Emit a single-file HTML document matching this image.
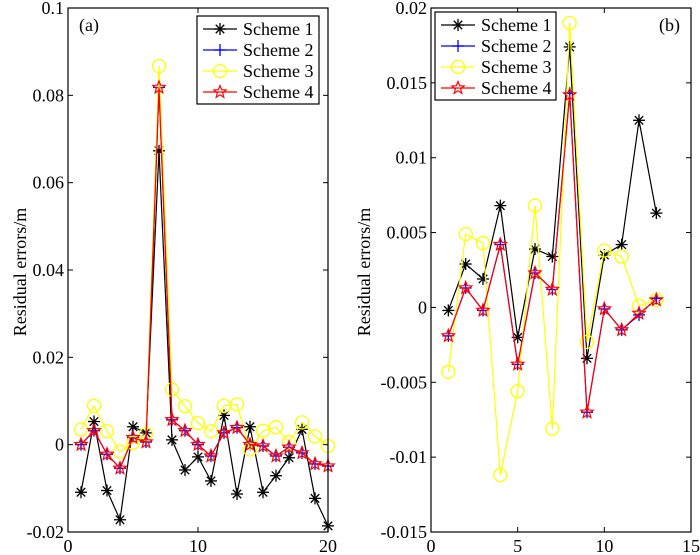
<!DOCTYPE html>
<html><head><meta charset="utf-8"><style>
html,body{margin:0;padding:0;background:#fff;}
svg{display:block;font-family:"Liberation Serif",serif;}
</style></head><body>
<svg id="chart" width="700" height="555" viewBox="0 0 700 555" xmlns="http://www.w3.org/2000/svg"></svg>
<script>
const xA = [1,2,3,4,5,6,7,8,9,10,11,12,13,14,15,16,17,18,19,20];
const a1 = [-0.0109,0.0053,-0.0105,-0.0172,0.0041,0.0027,0.0673,0.0011,-0.0058,-0.0028,-0.0083,0.0067,-0.0113,0.0041,-0.0109,-0.0071,-0.003,0.0035,-0.0123,-0.0186];
const a2 = [0,0.0032,-0.0022,-0.0054,0.0016,0.0006,0.0818,0.0057,0.0032,0,-0.0026,0.0027,0.0039,0,-0.0003,-0.0026,-0.0006,-0.0019,-0.0044,-0.0049];
const a3 = [0.0035,0.0089,0.0031,-0.0016,0.0004,0.0024,0.0867,0.0126,0.0088,0.0049,0.0031,0.0089,0.0092,-0.0011,0.0032,0.004,0.0006,0.0051,0.0019,-0.0003];
const a4 = [0,0.0032,-0.0022,-0.0054,0.0016,0.0006,0.0818,0.0057,0.0032,0,-0.0026,0.0027,0.0039,0,-0.0003,-0.0026,-0.0006,-0.0019,-0.0044,-0.0049];
const xB = [1,2,3,4,5,6,7,8,9,10,11,12,13];
const b1 = [-0.0002,0.0029,0.0019,0.0068,-0.002,0.0039,0.0034,0.0174,-0.0034,0.0035,0.0042,0.0125,0.0063];
const b2 = [-0.0019,0.0013,-0.0002,0.0042,-0.0038,0.0023,0.0012,0.0143,-0.007,-0.0001,-0.0015,-0.0005,0.0006];
const b3 = [-0.0043,0.0049,0.0043,-0.0112,-0.0056,0.0068,-0.0081,0.019,-0.0023,0.0038,0.0034,0.0001,0.0005];
const b4 = [-0.0019,0.0013,-0.0002,0.0042,-0.0038,0.0023,0.0012,0.0142,-0.007,-0.0001,-0.0015,-0.0004,0.0005];
const xTicksA = [0,10,20];
const yTicksA = [-0.02,0,0.02,0.04,0.06,0.08,0.1];
const yLabelsA = ["-0.02","0","0.02","0.04","0.06","0.08","0.1"];
const xTicksB = [0,5,10,15];
const yTicksB = [-0.015,-0.01,-0.005,0,0.005,0.01,0.015,0.02];
const yLabelsB = ["-0.015","-0.01","-0.005","0","0.005","0.01","0.015","0.02"];
const names = ["Scheme 1","Scheme 2","Scheme 3","Scheme 4"];

const NS="http://www.w3.org/2000/svg";
const svg=document.getElementById('chart');
function mk(tag,attrs,parent){const e=document.createElementNS(NS,tag);for(const k in attrs)e.setAttribute(k,attrs[k]);(parent||svg).appendChild(e);return e;}

function marker(g,type,x,y){
  const r=6;
  if(type===0){
    for(let i=0;i<4;i++){const a=i*Math.PI/4;const m=mk('line',{x1:x-r*Math.cos(a),y1:y-r*Math.sin(a),x2:x+r*Math.cos(a),y2:y+r*Math.sin(a),stroke:'#000','stroke-width':1.3},g);}
  } else if(type===1){
    const m1=mk('line',{x1:x-r,y1:y,x2:x+r,y2:y,stroke:'#0000ff','stroke-width':1.3},g);
    const m2=mk('line',{x1:x,y1:y-r,x2:x,y2:y+r,stroke:'#0000ff','stroke-width':1.3},g);
  } else if(type===2){
    const m=mk('circle',{cx:x,cy:y,r:6.5,fill:'none',stroke:'#ffff00','stroke-width':1.3},g);
  } else {
    let p=[];for(let i=0;i<10;i++){const rr=i%2?2.8:6.5;const a=-Math.PI/2+i*Math.PI/5;p.push((x+rr*Math.cos(a)).toFixed(2)+','+(y+rr*Math.sin(a)).toFixed(2));}
    const m=mk('polygon',{points:p.join(' '),fill:'none',stroke:'#ff0000','stroke-width':1.2},g);
  }
}
const colors=['#000','#0000ff','#ffff00','#ff0000'];

function panel(id,L,R,T,B,xmin,xmax,ymin,ymax,xt,yt,yl,xs,series,legX,legY,legW,tag,tagX,titleX){
  const g=mk('g',{});
  
  
  const sx=v=>L+(v-xmin)/(xmax-xmin)*(R-L);
  const sy=v=>B-(v-ymin)/(ymax-ymin)*(B-T);
  series.forEach((s,k)=>{
    const sg=mk('g',{},g);
    
    
    const pl=mk('polyline',{points:s.map((v,i)=>sx(xs[i])+','+sy(v)).join(' '),fill:'none',stroke:colors[k],'stroke-width':1.2},sg);
    
    
    s.forEach((v,i)=>marker(sg,k,sx(xs[i]),sy(v)));
  });
  const fr=mk('rect',{x:L,y:T,width:R-L,height:B-T,fill:'none',stroke:'#000','stroke-width':1.2},g);
  
  
  xt.forEach(v=>{
    const x=sx(v);
    mk('line',{x1:x,y1:B,x2:x,y2:B-5,stroke:'#000'},g);
    mk('line',{x1:x,y1:T,x2:x,y2:T+5,stroke:'#000'},g);
    const t=mk('text',{x:x,y:B+20,'font-size':18,'text-anchor':'middle'},g);
    t.textContent=v;
    
    
  });
  yt.forEach((v,i)=>{
    const y=sy(v);
    mk('line',{x1:L,y1:y,x2:L+5,y2:y,stroke:'#000'},g);
    mk('line',{x1:R,y1:y,x2:R-5,y2:y,stroke:'#000'},g);
    const t=mk('text',{x:L-4,y:y+6,'font-size':18,'text-anchor':'end'},g);
    t.textContent=yl[i];
    
    
  });
  const yt2=mk('text',{x:0,y:0,'font-size':18,'text-anchor':'middle',transform:`translate(${titleX},272) rotate(-90)`},g);
  yt2.textContent='Residual errors/m';
  
  
  const tg=mk('text',{x:tagX,y:31,'font-size':18},g);
  tg.textContent=tag;
  
  
  const lg=mk('g',{},g);
  
  
  mk('rect',{x:legX,y:legY,width:legW,height:88,fill:'#fff',stroke:'#000','stroke-width':1.2},lg);
  names.forEach((n,k)=>{
    const y=legY+13+k*21;
    const e=mk('g',{},lg);
    
    
    mk('line',{x1:legX+6,y1:y,x2:legX+40,y2:y,stroke:colors[k],'stroke-width':1.2},e);
    marker(e,k,legX+23,y);
    const t=mk('text',{x:legX+46,y:y+6,'font-size':18},e);
    t.textContent=n;
  });
}
panel('a',68,328,8,532,0,20,-0.02,0.1,xTicksA,yTicksA,yLabelsA,xA,[a1,a2,a3,a4],197,16,122,'(a)',79,26);
panel('b',431,691,8,532,0,15,-0.015,0.02,xTicksB,yTicksB,yLabelsB,xB,[b1,b2,b3,b4],435,12,121,'(b)',659,370);
</script>
</body></html>
